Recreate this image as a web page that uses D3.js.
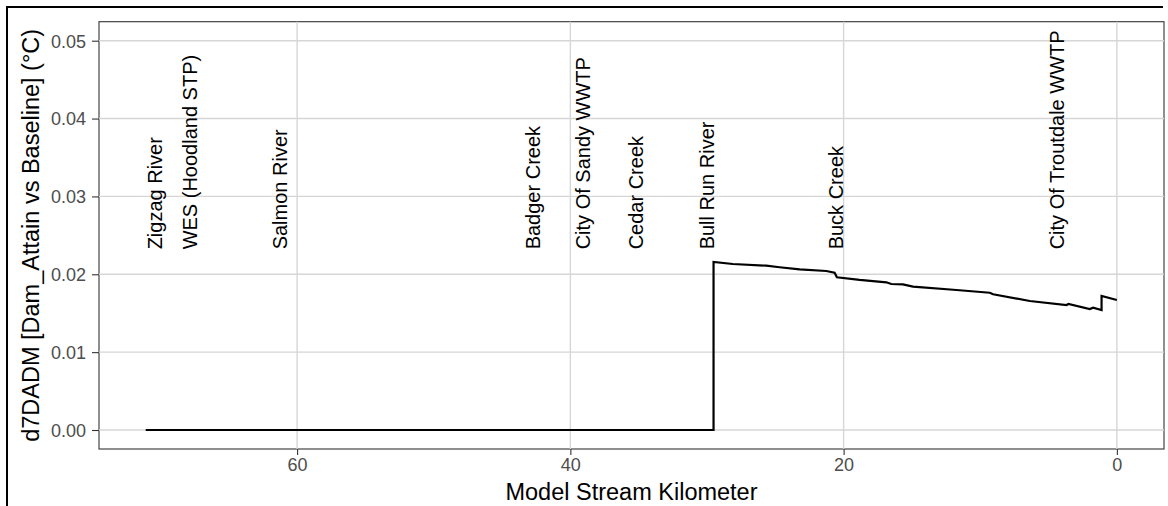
<!DOCTYPE html>
<html>
<head>
<meta charset="utf-8">
<script src="https://cdn.jsdelivr.net/npm/d3@7"></script>
<style>
  html, body { margin: 0; padding: 0; background: #ffffff; }
  svg { display: block; font-family: "Liberation Sans", Arial, sans-serif; }
</style>
</head>
<body>
<svg id="chart" width="1168" height="506"></svg>
<script>
// ---- data ----
const seriesKm    = [71.08, 29.52, 29.52, 28.11, 25.66, 24.69, 23.22, 21.27, 20.66, 20.49, 18.83, 16.87, 16.51, 15.66, 14.92, 11.74, 9.30, 9.06, 6.37, 3.68, 3.55, 1.98, 1.74, 1.12, 1.12, 0.00];
const seriesValue = [0.0, 0.0, 0.02158, 0.02132, 0.02110, 0.02090, 0.02064, 0.02042, 0.02020, 0.01961, 0.01927, 0.01897, 0.01875, 0.01871, 0.01841, 0.01798, 0.01763, 0.01743, 0.01657, 0.01605, 0.01618, 0.01554, 0.01571, 0.01541, 0.01721, 0.01670];
const labelNames = ["Zigzag River", "WES (Hoodland STP)", "Salmon River", "Badger Creek", "City Of Sandy WWTP", "Cedar Creek", "Bull Run River", "Buck Creek", "City Of Troutdale WWTP"];
const labelKm    = [70.39, 67.83, 61.24, 42.73, 39.07, 35.19, 30.0, 20.56, 4.39];
const labelValue = 0.0232;
const xTicks = [60, 40, 20, 0];
const yTicks = [0.00, 0.01, 0.02, 0.03, 0.04, 0.05];
const xTitle = "Model Stream Kilometer";
const yTitle = "d7DADM [Dam_Attain vs Baseline] (°C)";

// ---- layout ----
const svg = d3.select("#chart");
const panel = { left: 99, right: 1164, top: 21.7, bottom: 449 };

const x = d3.scaleLinear().domain([74.5, -3.45]).range([panel.left, panel.right]);
const y = d3.scaleLinear().domain([-0.00244, 0.05244]).range([panel.bottom, panel.top]);

// outer frame (top and left visible)
svg.append("line").attr("x1", 7).attr("x2", 1163).attr("y1", 7).attr("y2", 7)
  .attr("stroke", "#000").attr("stroke-width", 2);
svg.append("line").attr("x1", 7).attr("x2", 7).attr("y1", 6).attr("y2", 506)
  .attr("stroke", "#000").attr("stroke-width", 2);

// panel border
svg.append("rect")
  .attr("x", panel.left).attr("y", panel.top)
  .attr("width", panel.right - panel.left).attr("height", panel.bottom - panel.top)
  .attr("fill", "none").attr("stroke", "#333333").attr("stroke-width", 1.1);

// grid
const grid = svg.append("g").attr("stroke", "#d6d6d6").attr("stroke-width", 1.4);
grid.selectAll("line.gx").data(xTicks).join("line")
  .attr("x1", d => x(d)).attr("x2", d => x(d))
  .attr("y1", panel.top).attr("y2", panel.bottom);
grid.selectAll("line.gy").data(yTicks).join("line")
  .attr("x1", panel.left).attr("x2", panel.right)
  .attr("y1", d => y(d)).attr("y2", d => y(d));

// axes
const xAxis = d3.axisBottom(x).tickValues(xTicks).tickFormat(d3.format("d")).tickSize(6).tickPadding(3);
const yAxis = d3.axisLeft(y).tickValues(yTicks).tickFormat(d3.format(".2f")).tickSize(7).tickPadding(6);

const gx = svg.append("g").attr("transform", `translate(0,${panel.bottom})`).call(xAxis);
const gy = svg.append("g").attr("transform", `translate(${panel.left},0)`).call(yAxis);
[gx, gy].forEach(g => {
  g.select(".domain").remove();
  g.selectAll(".tick line").attr("stroke", "#333333").attr("stroke-width", 1.1);
  g.selectAll(".tick text").attr("fill", "#4d4d4d").style("font-size", "18px")
    .style("font-family", "'Liberation Sans', Arial, sans-serif");
});
gy.selectAll(".tick text").attr("dy", "0.35em");

// line
const line = d3.line().x((d, i) => x(seriesKm[i])).y((d, i) => y(seriesValue[i]));
svg.append("path").datum(seriesValue)
  .attr("d", line).attr("fill", "none").attr("stroke", "#000")
  .attr("stroke-width", 2.2).attr("stroke-linejoin", "miter");

// labels
svg.append("g").selectAll("text").data(labelNames).join("text")
  .attr("transform", (d, i) => `translate(${x(labelKm[i])},${y(labelValue)}) rotate(-90)`)
  .attr("text-anchor", "start").attr("dy", "0.35em")
  .style("font-size", "20px").attr("fill", "#000")
  .text(d => d);

// axis titles
svg.append("text").attr("x", (panel.left + panel.right) / 2).attr("y", 500)
  .attr("text-anchor", "middle").style("font-size", "23.5px").attr("fill", "#000")
  .text(xTitle);
svg.append("text")
  .attr("transform", `translate(39,${(panel.top + panel.bottom) / 2}) rotate(-90)`)
  .attr("text-anchor", "middle").style("font-size", "23.5px").attr("fill", "#000")
  .text(yTitle);
</script>
</body>
</html>
